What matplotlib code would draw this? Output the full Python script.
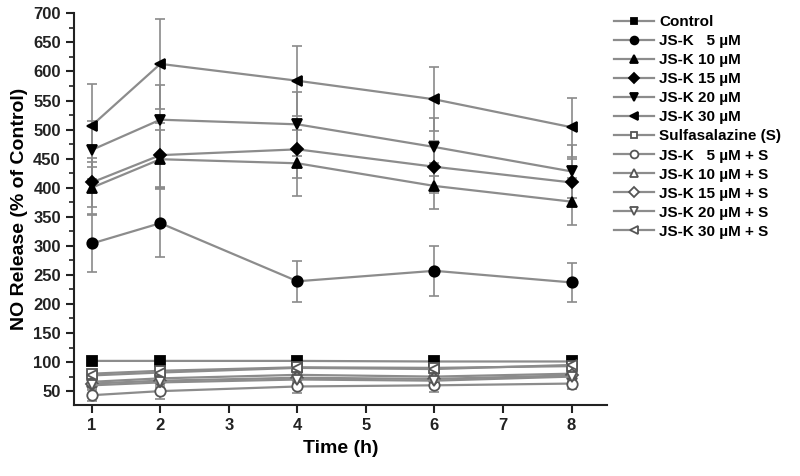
import numpy as np
import matplotlib.pyplot as plt
from matplotlib.ticker import MultipleLocator

plt.rcParams['font.family'] = ['Liberation Sans', 'DejaVu Sans']
plt.rcParams['font.weight'] = 'bold'

# time points (h)
time_h = [1, 2, 4, 6, 8]

labels = ['Control', 'JS-K   5 \u00b5M', 'JS-K 10 \u00b5M', 'JS-K 15 \u00b5M',
          'JS-K 20 \u00b5M', 'JS-K 30 \u00b5M', 'Sulfasalazine (S)',
          'JS-K   5 \u00b5M + S', 'JS-K 10 \u00b5M + S', 'JS-K 15 \u00b5M + S',
          'JS-K 20 \u00b5M + S', 'JS-K 30 \u00b5M + S']

# mean NO release (% of control)
control = [102, 102, 102, 101, 101]
jsk5 = [304, 339, 239, 257, 237]
jsk10 = [400, 449, 442, 403, 376]
jsk15 = [409, 456, 466, 436, 409]
jsk20 = [465, 517, 509, 470, 428]
jsk30 = [507, 613, 584, 552, 504]
sulfa = [80, 85, 91, 90, 93]
jsk5_s = [43, 50, 58, 60, 63]
jsk10_s = [66, 72, 78, 75, 80]
jsk15_s = [63, 68, 73, 71, 77]
jsk20_s = [60, 65, 70, 68, 75]
jsk30_s = [77, 82, 90, 88, 95]

# standard deviations
control_sd = [3, 3, 4, 3, 3]
jsk5_sd = [49, 58, 35, 43, 33]
jsk10_sd = [45, 50, 57, 40, 40]
jsk15_sd = [42, 55, 50, 45, 40]
jsk20_sd = [50, 60, 55, 50, 45]
jsk30_sd = [71, 78, 60, 55, 51]
sulfa_sd = [6, 6, 6, 6, 6]
jsk5_s_sd = [10, 14, 12, 12, 10]
jsk10_s_sd = [8, 8, 8, 8, 8]
jsk15_s_sd = [8, 8, 8, 8, 8]
jsk20_s_sd = [8, 8, 8, 8, 8]
jsk30_s_sd = [8, 8, 8, 8, 8]

means = [control, jsk5, jsk10, jsk15, jsk20, jsk30,
         sulfa, jsk5_s, jsk10_s, jsk15_s, jsk20_s, jsk30_s]
sds = [control_sd, jsk5_sd, jsk10_sd, jsk15_sd, jsk20_sd, jsk30_sd,
       sulfa_sd, jsk5_s_sd, jsk10_s_sd, jsk15_s_sd, jsk20_s_sd, jsk30_s_sd]
markers = ['s', 'o', '^', 'D', 'v', '<', 's', 'o', '^', 'D', 'v', '<']
filled = [True] * 6 + [False] * 6

fig = plt.figure(figsize=(8.0, 4.76), dpi=100)
ax = fig.add_axes([0.0925, 0.149, 0.6665, 0.823])

for i in range(len(means)):
    ms = 6.5 if markers[i] in ('D', 's') else 7.5
    if filled[i]:
        fc = 'black'
        ec = 'black'
    else:
        fc = 'white'
        ec = '#555555'
    ax.errorbar(time_h, means[i], yerr=sds[i], fmt='none', ecolor='#8a8a8a',
                elinewidth=1.2, capsize=3.5, capthick=1.2, zorder=1)
    ax.plot(time_h, means[i], color='#8c8c8c', lw=1.6, marker=markers[i],
            ms=ms, mfc=fc, mec=ec, mew=1.3, label=labels[i], zorder=2)

ax.set_xlim(0.74, 8.52)
ax.set_ylim(26, 700)
ax.xaxis.set_major_locator(MultipleLocator(1))
ax.yaxis.set_minor_locator(MultipleLocator(25))
ax.set_yticks(np.arange(50, 701, 50))

for s in ['top', 'right']:
    ax.spines[s].set_visible(False)
for s in ['left', 'bottom']:
    ax.spines[s].set_linewidth(1.5)
    ax.spines[s].set_color('#222222')
ax.tick_params(axis='both', which='major', direction='out', length=6,
               width=1.5, labelsize=12, colors='#222222')
ax.tick_params(axis='y', which='minor', direction='out', length=3.5, width=1.2,
               colors='#222222')
for lab in ax.get_xticklabels() + ax.get_yticklabels():
    lab.set_fontweight('bold')

ax.set_xlabel('Time (h)', fontsize=14, fontweight='bold', labelpad=5)
ax.set_ylabel('NO Release (% of Control)', fontsize=14, fontweight='bold',
              labelpad=4)

leg = ax.legend(loc='upper left', bbox_to_anchor=(0.768, 0.968),
                bbox_transform=fig.transFigure, frameon=False, fontsize=11,
                handlelength=2.6, handletextpad=0.35, labelspacing=0.33,
                borderpad=0, borderaxespad=0, markerscale=0.75)
for t in leg.get_texts():
    t.set_fontweight('bold')

fig.savefig('out.png', dpi=100)
